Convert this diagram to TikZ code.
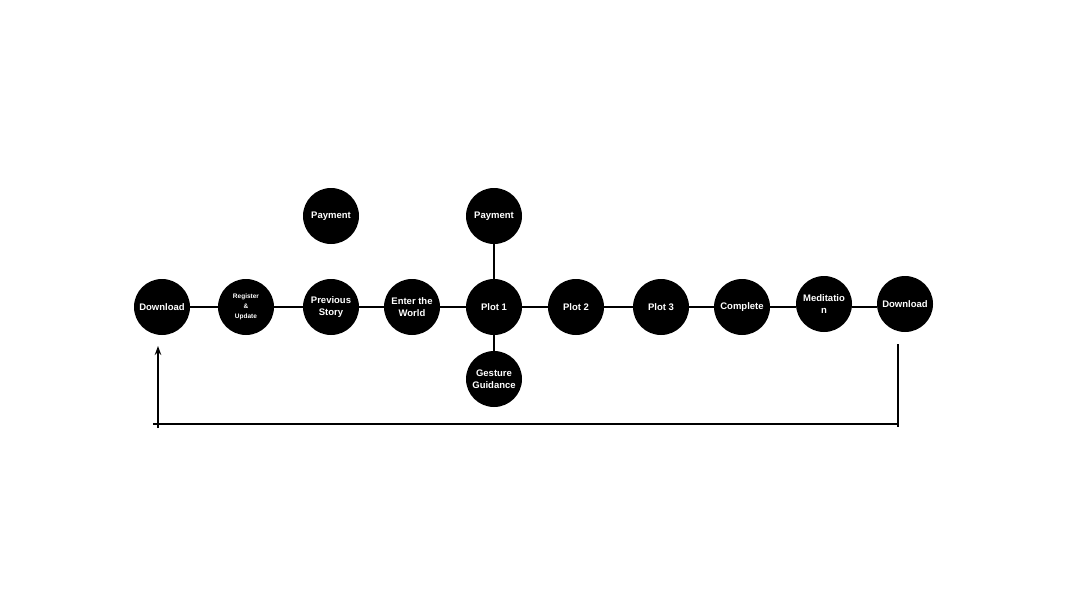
\documentclass[tikz,border=0pt]{standalone}
\usepackage{fontspec}
\setmainfont{Liberation Sans}
\usetikzlibrary{arrows.meta}
\begin{document}
\begin{tikzpicture}[x=1pt,y=-1pt,
  stage/.style={circle,fill=black,minimum size=56pt,inner sep=0pt,text=white,
    font=\fontsize{9.5}{11.5}\selectfont\bfseries,align=center},
  small/.style={font=\fontsize{6.5}{10}\selectfont\bfseries},
  link/.style={line width=1.3pt,black},
  flow/.style={line width=1.3pt,black}]
\useasboundingbox (0,0) rectangle (1067,600);
\node[stage] (dl1) at (162,307) {Download};
\node[stage,small] (reg) at (246,307) {Register\\\&\\Update};
\node[stage] (prev) at (331,307) {Previous\\Story};
\node[stage] (enter) at (412,307) {Enter the\\World};
\node[stage] (p1) at (494,307) {Plot 1};
\node[stage] (p2) at (576,307) {Plot 2};
\node[stage] (p3) at (661,307) {Plot 3};
\node[stage] (comp) at (742,307) {Complete};
\node[stage] (med) at (824,304) {Meditatio\\n};
\node[stage] (dl2) at (905,304) {Download};
\node[stage] (pay1) at (331,216) {Payment};
\node[stage] (pay2) at (494,216) {Payment};
\node[stage] (gest) at (494,379) {Gesture\\Guidance};
\draw[link] (dl1) -- (reg);
\draw[link] (reg) -- (prev);
\draw[link] (prev) -- (enter);
\draw[link] (enter) -- (p1);
\draw[link] (p1) -- (p2);
\draw[link] (p2) -- (p3);
\draw[link] (p3) -- (comp);
\draw[link] (comp) -- (med.west |- comp);
\draw[link] (med.east |- comp) -- (dl2.west |- comp);
\draw[link] (p1) -- (pay2);
\draw[link] (p1) -- (gest);
\coordinate (r1) at (898,344);
\coordinate (r2) at (898,427);
\coordinate (b1) at (898,424);
\coordinate (b2) at (153,424);
\coordinate (l1) at (158,428);
\coordinate (l2) at (158,346);
\draw[flow] (r1) -- (r2);
\draw[flow] (b1) -- (b2);
\draw[flow,-{Stealth[length=9pt,width=6.5pt]}] (l1) -- (l2);
\end{tikzpicture}
\end{document}
